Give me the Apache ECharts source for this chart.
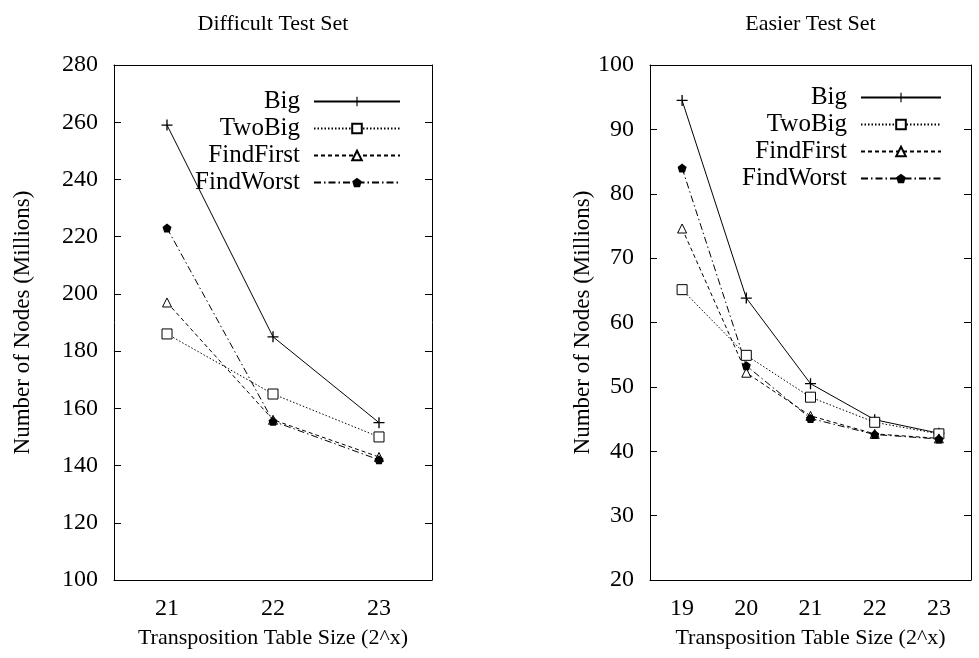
<!DOCTYPE html>
<html>
<head>
<meta charset="utf-8">
<script src="https://cdn.jsdelivr.net/npm/echarts@6/dist/echarts.min.js"></script>
<style>
  body { margin: 0; background: #fff; }
  #main { width: 979px; height: 658px; }
</style>
</head>
<body>
<div id="main"></div>
<script>
// table size exponents (2^x)
var hardSizes = ['21', '22', '23'];
var easySizes = ['19', '20', '21', '22', '23'];

// Difficult test set, millions of nodes
var hardBig       = [259, 185, 155];
var hardTwoBig    = [186, 165, 150];
var hardFindFirst = [197, 156, 143];
var hardFindWorst = [223, 155.5, 142];

// Easier test set, millions of nodes
var easyBig       = [94.5, 63.8, 50.5, 44.9, 42.8];
var easyTwoBig    = [65.1, 54.9, 48.4, 44.5, 42.7];
var easyFindFirst = [74.6, 52.2, 45.5, 42.7, 42.0];
var easyFindWorst = [84.0, 53.3, 45.1, 42.6, 41.9];

var names = ['Big', 'TwoBig', 'FindFirst', 'FindWorst'];

var myChart = echarts.init(document.getElementById('main'));

var FONT = "'Liberation Serif', 'Times New Roman', serif";
var plus = 'path://M4.4,0H5.6V4.4H10V5.6H5.6V10H4.4V5.6H0V4.4H4.4Z';
var pentagon = 'path://M5,0L10,3.8L8.1,10H1.9L0,3.8Z';

// line look of each method
var looks = {
    Big:       { symbol: plus,       size: 11, fill: '#000', dash: 'solid' },
    TwoBig:    { symbol: 'rect',     size: 10, fill: '#fff', dash: [1.5, 2] },
    FindFirst: { symbol: 'triangle', size: 9,  fill: '#fff', dash: [4, 3] },
    FindWorst: { symbol: pentagon,   size: 9,  fill: '#000', dash: [7, 3, 1.5, 3] }
};

function makeSeries(name, data, axisIdx) {
    var l = looks[name];
    return {
        name: name,
        type: 'line',
        xAxisIndex: axisIdx,
        yAxisIndex: axisIdx,
        data: data,
        symbol: l.symbol,
        symbolSize: l.size,
        showAllSymbol: true,
        lineStyle: { color: '#000', width: 1, type: l.dash },
        itemStyle: { color: l.fill, borderColor: '#000', borderWidth: l.fill == '#fff' ? 1 : 0 },
        emphasis: { disabled: true }
    };
}

function tickLabel(size, margin) {
    return { color: '#000', fontFamily: FONT, fontSize: size, margin: margin };
}

function xAxes(cats, grid, title) {
    return [{
        type: 'category', gridIndex: grid, data: cats, position: 'bottom',
        axisLine: { lineStyle: { color: '#000', width: 1 } },
        axisTick: { inside: true, alignWithLabel: true, length: 7, lineStyle: { color: '#000' } },
        axisLabel: tickLabel(24, 17),
        name: 'Transposition Table Size (2^x)', nameLocation: 'middle', nameGap: 47,
        nameTextStyle: { color: '#000', fontFamily: FONT, fontSize: 22 }
    }, {
        type: 'category', gridIndex: grid, data: cats, position: 'top',
        axisLine: { lineStyle: { color: '#000', width: 1 } },
        axisTick: { inside: true, alignWithLabel: true, length: 7, lineStyle: { color: '#000' } },
        axisLabel: { show: false },
        name: title, nameLocation: 'middle', nameGap: 30,
        nameTextStyle: { color: '#000', fontFamily: FONT, fontSize: 22 }
    }];
}

function yAxes(min, max, step, grid, gap) {
    return [{
        type: 'value', gridIndex: grid, min: min, max: max, interval: step, position: 'left',
        axisLine: { show: true, lineStyle: { color: '#000', width: 1 } },
        axisTick: { show: true, inside: true, length: 7, lineStyle: { color: '#000' } },
        splitLine: { show: false },
        axisLabel: tickLabel(24, 16),
        name: 'Number of Nodes (Millions)', nameLocation: 'middle', nameGap: gap,
        nameTextStyle: { color: '#000', fontFamily: FONT, fontSize: 23 }
    }, {
        type: 'value', gridIndex: grid, min: min, max: max, interval: step, position: 'right',
        axisLine: { show: true, lineStyle: { color: '#000', width: 1 } },
        axisTick: { show: true, inside: true, length: 7, lineStyle: { color: '#000' } },
        splitLine: { show: false },
        axisLabel: { show: false }
    }];
}

function legendAt(right, top, lineLen) {
    return {
        data: names, orient: 'vertical', align: 'right',
        right: right, top: top, itemWidth: lineLen, itemHeight: 12, itemGap: 2,
        selectedMode: false,
        textStyle: { color: '#000', fontFamily: FONT, fontSize: 25, lineHeight: 25, padding: [0, 9, 0, 0] }
    };
}

var option = {
    backgroundColor: '#fff',
    animation: false,
    textStyle: { fontFamily: FONT },
    grid: [
        { left: 114, top: 65, width: 318, height: 515 },
        { left: 650, top: 65, width: 321, height: 515 }
    ],
    legend: [legendAt(573, 84, 86), legendAt(32, 80, 80)],
    xAxis: xAxes(hardSizes, 0, 'Difficult Test Set').concat(xAxes(easySizes, 1, 'Easier Test Set')),
    yAxis: yAxes(100, 280, 20, 0, 80).concat(yAxes(20, 100, 10, 1, 52)),
    series: [
        makeSeries('Big', hardBig, 0),
        makeSeries('TwoBig', hardTwoBig, 0),
        makeSeries('FindFirst', hardFindFirst, 0),
        makeSeries('FindWorst', hardFindWorst, 0),
        makeSeries('Big', easyBig, 2),
        makeSeries('TwoBig', easyTwoBig, 2),
        makeSeries('FindFirst', easyFindFirst, 2),
        makeSeries('FindWorst', easyFindWorst, 2)
    ]
};

myChart.setOption(option);
</script>
</body>
</html>
